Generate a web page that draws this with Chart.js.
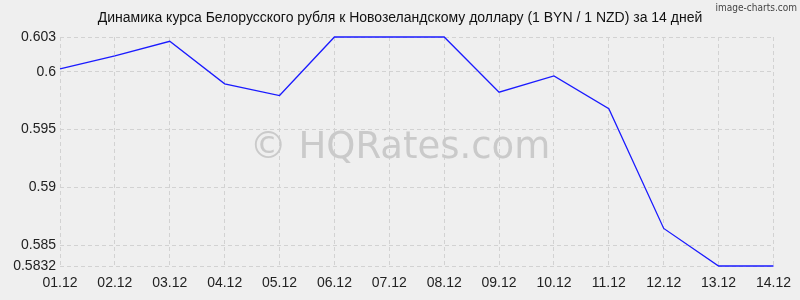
<!DOCTYPE html>
<html>
<head>
  <title>BYN / NZD</title>
  <script src="https://cdn.jsdelivr.net/npm/chart.js"></script>
  <style>
    html, body {
      margin: 0;
      padding: 0;
      background: #efefef;
    }
    #wrap {
      width: 800px;
      height: 300px;
    }
  </style>
</head>
<body>
  <div id="wrap"><canvas id="rateChart"></canvas></div>

  <script>
    const TITLE = "Динамика курса Белорусского рубля к Новозеландскому доллару (1 BYN / 1 NZD) за 14 дней";

    const days = ["01.12", "02.12", "03.12", "04.12", "05.12", "06.12", "07.12",
                  "08.12", "09.12", "10.12", "11.12", "12.12", "13.12", "14.12"];
    const rates = [0.60024, 0.60136, 0.60263, 0.59895, 0.59794, 0.603, 0.603,
                   0.603, 0.59823, 0.59964, 0.59680, 0.58645, 0.5832, 0.5832];
    const yTicks = [0.5832, 0.585, 0.59, 0.595, 0.6, 0.603];

    // title, watermark and the little credit line
    const decor = {
      id: 'decor',
      beforeDatasetsDraw(chart) {
        const ctx = chart.ctx;
        ctx.save();
        ctx.fillStyle = '#cacaca';
        ctx.font = '37px "DejaVu Sans"';
        ctx.textAlign = 'center';
        ctx.textBaseline = 'middle';
        ctx.fillText('© HQRates.com', 400, 148);
        ctx.restore();
      },
      afterDraw(chart) {
        const ctx = chart.ctx;
        ctx.save();
        ctx.fillStyle = '#111';
        ctx.font = '14px "Liberation Sans"';
        ctx.textAlign = 'center';
        ctx.textBaseline = 'middle';
        ctx.fillText(TITLE, 400, 18);
        ctx.fillStyle = '#444';
        ctx.font = '10px "DejaVu Sans Condensed"';
        ctx.textAlign = 'right';
        ctx.fillText('image-charts.com', 797, 8);
        ctx.restore();
      }
    };

    new Chart(document.getElementById('rateChart'), {
      type: 'line',
      data: {
        labels: days,
        datasets: [{
          data: rates,
          borderColor: '#1a1aff',
          borderWidth: 1.3,
          pointRadius: 0,
          tension: 0,
          fill: false,
          clip: false
        }]
      },
      options: {
        responsive: true,
        maintainAspectRatio: false,
        animation: false,
        layout: { padding: { top: 37, right: 21, left: 0, bottom: 0 } },
        plugins: {
          legend: { display: false },
          title: { display: false },
          tooltip: { enabled: false }
        },
        scales: {
          x: {
            offset: false,
            grid: { color: '#d2d2d2', drawTicks: false },
            border: { display: false, dash: [4, 3] },
            ticks: { color: '#222', font: { family: 'Liberation Sans', size: 14 }, padding: 9, maxRotation: 0, autoSkip: false },
            afterFit(scale) { scale.height = 34; }
          },
          y: {
            min: 0.5832,
            max: 0.603,
            afterBuildTicks(scale) { scale.ticks = yTicks.map(v => ({ value: v })); },
            grid: { color: '#d2d2d2', drawTicks: false },
            border: { display: false, dash: [4, 3] },
            ticks: {
              color: '#222',
              font: { family: 'Liberation Sans', size: 14 },
              padding: 4,
              callback: v => String(v)
            },
            afterFit(scale) { scale.width = 60; }
          }
        }
      },
      plugins: [decor]
    });
  </script>
</body>
</html>
